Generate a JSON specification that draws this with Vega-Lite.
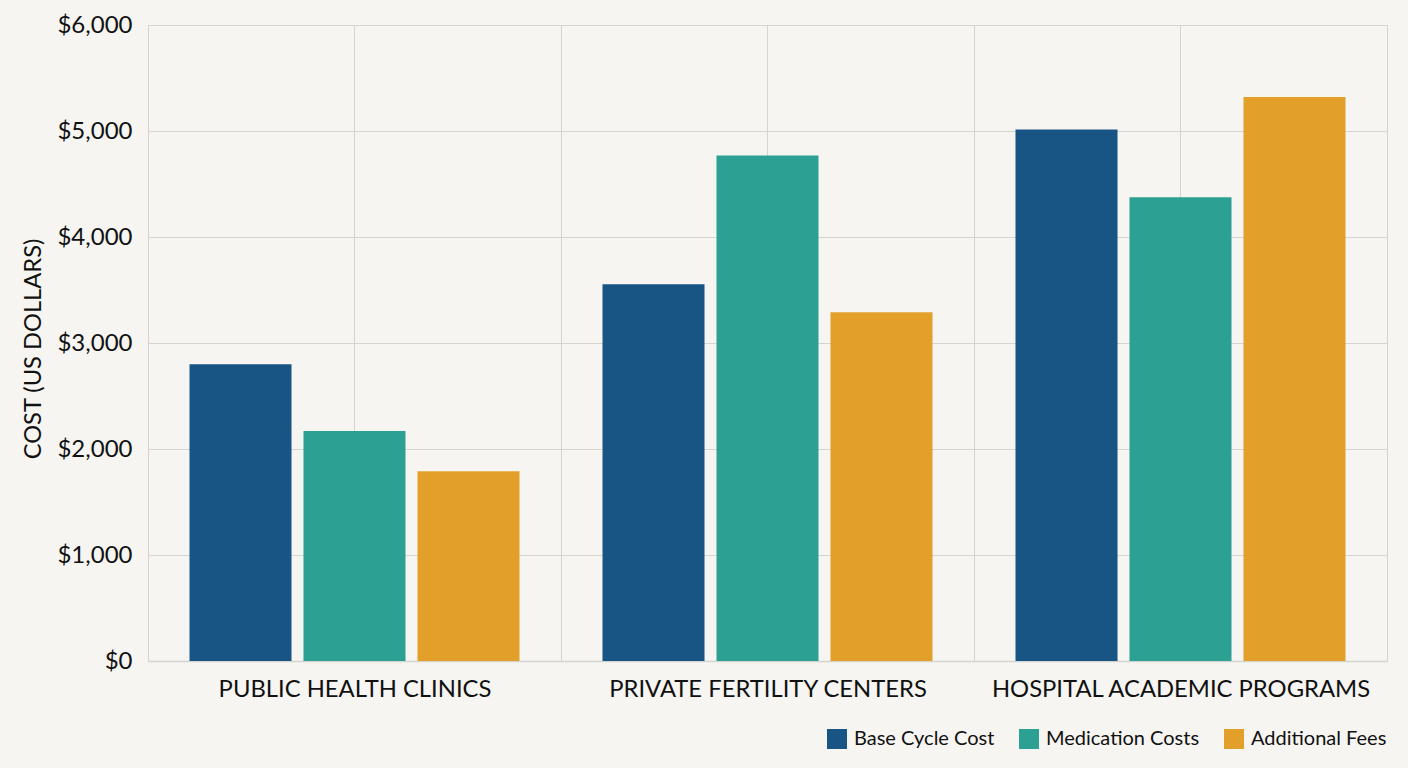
{
  "$schema": "https://vega.github.io/schema/vega-lite/v6.json",
  "description": "IVF cycle cost by provider type",
  "width": 1239,
  "height": 636,
  "autosize": {"type": "none"},
  "padding": {"left": 148, "top": 25, "right": 21, "bottom": 107},
  "background": "#F6F5F2",
  "config": {
    "font": "Lato",
    "view": {"stroke": "#D4D4D0", "strokeWidth": 1}
  },
  "datasets": {
    "costs": [
      {"provider": "PUBLIC HEALTH CLINICS", "type": "Base Cycle Cost", "cost": 2800},
      {"provider": "PUBLIC HEALTH CLINICS", "type": "Medication Costs", "cost": 2170},
      {"provider": "PUBLIC HEALTH CLINICS", "type": "Additional Fees", "cost": 1790},
      {"provider": "PRIVATE FERTILITY CENTERS", "type": "Base Cycle Cost", "cost": 3555},
      {"provider": "PRIVATE FERTILITY CENTERS", "type": "Medication Costs", "cost": 4770},
      {"provider": "PRIVATE FERTILITY CENTERS", "type": "Additional Fees", "cost": 3290},
      {"provider": "HOSPITAL ACADEMIC PROGRAMS", "type": "Base Cycle Cost", "cost": 5015},
      {"provider": "HOSPITAL ACADEMIC PROGRAMS", "type": "Medication Costs", "cost": 4375},
      {"provider": "HOSPITAL ACADEMIC PROGRAMS", "type": "Additional Fees", "cost": 5320}
    ],
    "providers": [
      {"provider": "PUBLIC HEALTH CLINICS"},
      {"provider": "PRIVATE FERTILITY CENTERS"},
      {"provider": "HOSPITAL ACADEMIC PROGRAMS"}
    ]
  },
  "layer": [
    {
      "data": {"name": "providers"},
      "mark": {"type": "rule", "color": "#D4D4D0", "strokeWidth": 1},
      "encoding": {
        "x": {
          "field": "provider",
          "type": "nominal",
          "sort": null,
          "scale": {"paddingInner": 0, "paddingOuter": 0},
          "title": null,
          "axis": {
            "labelAngle": 0,
            "labelFontSize": 23.8,
            "labelColor": "#111111",
            "labelLimit": 500,
            "labelPadding": 16,
            "tickBand": "extent",
            "ticks": false,
            "grid": true,
            "gridColor": "#D4D4D0",
            "gridWidth": 1,
            "domainColor": "#D4D4D0",
            "domainWidth": 1.5
          }
        }
      }
    },
    {
      "data": {"name": "costs"},
      "mark": {"type": "bar"},
      "encoding": {
        "x": {"field": "provider", "type": "nominal", "sort": null},
        "xOffset": {
          "field": "type",
          "type": "nominal",
          "sort": ["Base Cycle Cost", "Medication Costs", "Additional Fees"],
          "scale": {"paddingInner": 0.105, "paddingOuter": 0.364}
        },
        "y": {
          "field": "cost",
          "type": "quantitative",
          "scale": {"domain": [0, 6000]},
          "title": "COST (US DOLLARS)",
          "axis": {
            "values": [0, 1000, 2000, 3000, 4000, 5000, 6000],
            "format": "$,d",
            "labelFontSize": 24,
            "labelColor": "#111111",
            "labelPadding": 16,
            "ticks": false,
            "domain": false,
            "gridColor": "#D4D4D0",
            "gridWidth": 1,
            "titleFontSize": 23.7,
            "titleFontWeight": "normal",
            "titleColor": "#111111",
            "titlePadding": 11,
            "titleY": 323.5
          }
        },
        "color": {
          "field": "type",
          "type": "nominal",
          "scale": {
            "domain": ["Base Cycle Cost", "Medication Costs", "Additional Fees"],
            "range": ["#185585", "#2CA193", "#E2A02B"]
          },
          "legend": {
            "title": null,
            "orient": "none",
            "direction": "horizontal",
            "legendX": 679,
            "legendY": 704,
            "padding": 0,
            "symbolType": "square",
            "symbolSize": 400,
            "symbolStrokeWidth": 0,
            "labelFontSize": 20,
            "labelColor": "#111111",
            "labelOffset": 7,
            "columnPadding": 24
          }
        }
      }
    }
  ]
}
